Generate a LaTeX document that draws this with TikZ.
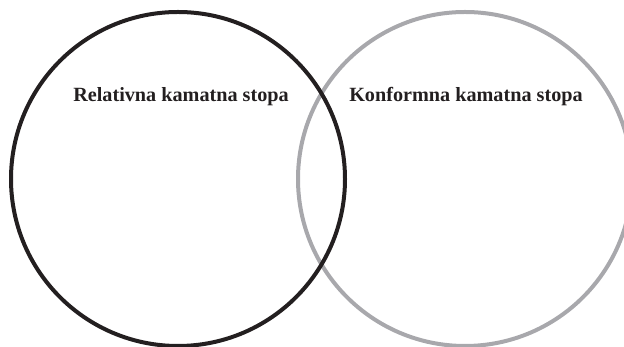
\documentclass[tikz,border=0pt]{standalone}
\usepackage{fontspec}
\setmainfont{Liberation Serif}
\usepackage{tikz}
\definecolor{inkA}{RGB}{35,31,32}
\definecolor{inkB}{RGB}{168,168,172}

\begin{document}
\begin{tikzpicture}[
    x=1pt, y=1pt, line cap=round, line join=round,
    setA/.style={line width=4pt, draw=inkA},
    setB/.style={line width=4pt, draw=inkB},
    setlabel/.style={font=\bfseries\fontsize{20.2}{22}\selectfont, text=inkA, inner sep=0pt},
  ]
  % --- frame ---
  \useasboundingbox (0,0) rectangle (624,347);
  \clip (0,0) rectangle (624,347);

  % --- sets ---
  \coordinate (cA) at (178,168);
  \coordinate (cB) at (465,168);
  \draw[setB] (cB) circle (167);
  \draw[setA] (cA) circle (167);

  % --- labels ---
  \node[setlabel] (labA) at (181,250) {Relativna kamatna stopa};
  \node[setlabel] (labB) at (466,250) {Konformna kamatna stopa};
\end{tikzpicture}
\end{document}
